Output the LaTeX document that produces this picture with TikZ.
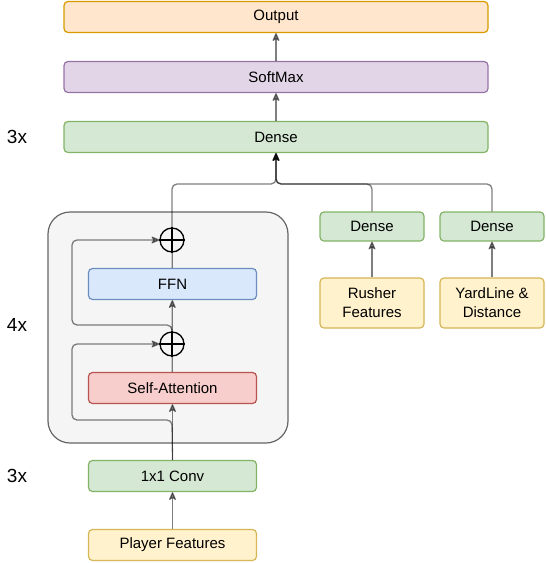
\documentclass[tikz,border=0pt]{standalone}
\usepackage{fontspec}
\setmainfont{Liberation Sans}
\usetikzlibrary{arrows.meta}

\definecolor{outfill}{HTML}{FFE6CC}\definecolor{outline}{HTML}{D79B00}
\definecolor{smfill}{HTML}{E1D5E7}\definecolor{smline}{HTML}{9673A6}
\definecolor{dnfill}{HTML}{D5E8D4}\definecolor{dnline}{HTML}{82B366}
\definecolor{fffill}{HTML}{DAE8FC}\definecolor{ffline}{HTML}{6C8EBF}
\definecolor{safill}{HTML}{F8CECC}\definecolor{saline}{HTML}{B85450}
\definecolor{infill}{HTML}{FFF2CC}\definecolor{inline}{HTML}{D6B656}
\definecolor{encfill}{HTML}{F5F5F5}\definecolor{encline}{HTML}{666666}

\begin{document}
\begin{tikzpicture}[x=1pt, y=-1pt, >={Stealth[round, length=10pt, width=8.5pt, inset=3pt]},
    every node/.style={font=\fontsize{15}{19}\selectfont},
    block/.style={draw, rounded corners=4pt, line width=1.2pt, minimum height=31pt, inner sep=0pt, align=center},
    wide/.style={block, minimum width=424pt},
    mid/.style={block, minimum width=168pt},
    small/.style={block, minimum width=104pt},
    link/.style={draw=black, opacity=0.5, line width=1.3pt, rounded corners=5pt},
    adder/.style={circle, draw, line width=1.3pt, minimum size=24pt, inner sep=0pt},
    rep/.style={font=\fontsize{19}{20}\selectfont}]
    \useasboundingbox (0,0) rectangle (546,563);

    % Encoder block
    \draw[fill=encfill, draw=encline, line width=1.2pt, rounded corners=22pt] (48,212) rectangle (288,443);

    % Define vertices
    \node[wide, fill=outfill, draw=outline] (out) at (276,17) {Output};
    \node[wide, fill=smfill, draw=smline] (soft) at (276,77) {SoftMax};
    \node[wide, fill=dnfill, draw=dnline] (dense) at (276,137) {Dense};
    \node[adder] (p1) at (172,240) {};
    \node[mid, fill=fffill, draw=ffline] (ffn) at (172.5,284) {FFN};
    \node[adder] (p2) at (172,344) {};
    \node[mid, fill=safill, draw=saline] (sa) at (172.5,388) {Self-Attention};
    \node[mid, fill=dnfill, draw=dnline] (conv) at (172.5,476) {1x1 Conv};
    \node[mid, fill=infill, draw=inline] (player) at (172.5,545) {Player Features};
    \node[small, fill=dnfill, draw=dnline, minimum height=29pt] (dr) at (372,226.5) {Dense};
    \node[small, fill=infill, draw=inline, minimum height=50pt] (rusher) at (372,303) {Rusher\\Features};
    \node[small, fill=dnfill, draw=dnline, minimum height=29pt] (dy) at (492,226.5) {Dense};
    \node[small, fill=infill, draw=inline, minimum height=50pt] (yard) at (492,303) {YardLine \&\\Distance};

    % Repeat counts
    \node[rep] (r1) at (17,137) {3x};
    \node[rep] (r2) at (17,325) {4x};
    \node[rep] (r3) at (17,476) {3x};

    % Plus signs
    \draw[line width=1.3pt] (p1.north) -- (p1.south) (p1.west) -- (p1.east);
    \draw[line width=1.3pt] (p2.north) -- (p2.south) (p2.west) -- (p2.east);

    % Helper coordinates
    \coordinate (join) at (276,184);
    \coordinate (sk1) at (172,420);
    \coordinate (sk1t) at (72,344);
    \coordinate (sk2) at (172,325);
    \coordinate (sk2t) at (72,240);

    % Draw edges
    \draw[link, ->] (player) -- (conv); % Player Features -> Conv
    \draw[link, ->] (conv) -- (sa); % Conv -> Self-Attention
    \draw[link] (sa) -- (p2); % Self-Attention -> add
    \draw[link, ->] (p2) -- (ffn); % add -> FFN
    \draw[link] (ffn) -- (p1); % FFN -> add
    \draw[link, ->] (conv.north) -- (sk1) -| (sk1t) -- (p2.west); % residual 1
    \draw[link, ->] (p2.north) -- (sk2) -| (sk2t) -- (p1.west); % residual 2
    \draw[link, ->] (p1.north) |- (join) -- (dense.south); % encoder -> Dense
    \draw[link, ->] (dr.north) |- (join) -- (dense.south); % rusher -> Dense
    \draw[link, ->] (dy.north) |- (join) -- (dense.south); % yardline -> Dense
    \draw[link, ->] (rusher) -- (dr);
    \draw[link, ->] (yard) -- (dy);
    \draw[link, ->] (dense) -- (soft);
    \draw[link, ->] (soft) -- (out);
\end{tikzpicture}
\end{document}
